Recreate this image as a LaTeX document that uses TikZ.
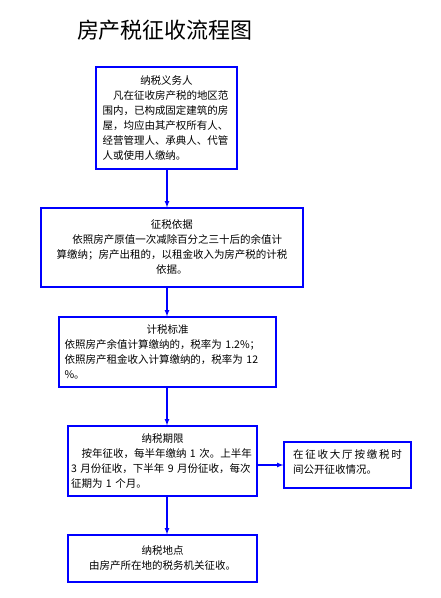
\documentclass[tikz,border=0pt]{standalone}
\usepackage{fontspec}
\setmainfont{Noto Sans CJK SC}
\newcommand{\boxhead}[1]{{\centering #1\par}\noindent}

\begin{document}
\begin{tikzpicture}[
  x=1pt, y=-1pt,
  stepbox/.style={draw=blue, line width=1.2pt, inner sep=0pt, align=left,
    font=\fontsize{10.5}{15}\selectfont},
  flow/.style={->, >=latex, draw=blue, line width=1.2pt}
]
  \useasboundingbox (0,0) rectangle (440,598);

  \node[font=\fontsize{22}{26}\selectfont] (title) at (165,30) {房产税征收流程图};

  \node[stepbox, minimum width=141pt, minimum height=102pt, text width=128pt] (duty) at (166.5,118)
    {\boxhead{纳税义务人}\hspace*{1em}凡在征收房产税的地区范\\
     围内，已构成固定建筑的房\\
     屋，均应由其产权所有人、\\
     经营管理人、承典人、代管\\
     人或使用人缴纳。};
  \node[stepbox, align=center, minimum width=262pt, minimum height=79pt, text width=250pt] (basis) at (172,247.5)
    {征税依据\\
     \hspace*{1em}依照房产原值一次减除百分之三十后的余值计\\
     算缴纳；房产出租的，以租金收入为房产税的计税\\
     依据。};
  \node[stepbox, minimum width=217pt, minimum height=70pt, text width=206pt] (rate) at (167.5,352)
    {\boxhead{计税标准}依照房产余值计算缴纳的，税率为 1.2\%；\\
     依照房产租金收入计算缴纳的，税率为 12\\
     \%。};
  \node[stepbox, minimum width=189pt, minimum height=70pt, text width=183pt] (term) at (162.5,461)
    {\boxhead{纳税期限}\hspace*{1em}按年征收，每半年缴纳 1 次。上半年\\
     3 月份征收，下半年 9 月份征收，每次\\
     征期为 1 个月。};
  \node[stepbox, minimum width=127pt, minimum height=46pt, text width=109pt, text depth=21pt] (hall) at (347.5,465)
    {\makebox[109pt][s]{在\hfill 征\hfill 收\hfill 大\hfill 厅\hfill 按\hfill 缴\hfill 税\hfill 时}\\
     间公开征收情况。};
  \node[stepbox, align=center, minimum width=189pt, minimum height=47pt, text width=175pt] (place) at (162.5,558.5)
    {纳税地点\\
     由房产所在地的税务机关征收。};

  \coordinate (axis) at (167,0);
  \draw[flow] (axis |- duty.south) -- (axis |- basis.north);
  \draw[flow] (axis |- basis.south) -- (axis |- rate.north);
  \draw[flow] (axis |- rate.south) -- (axis |- term.north);
  \draw[flow] (axis |- term.south) -- (axis |- place.north);
  \draw[flow] (term.east |- hall.west) -- (hall.west);
\end{tikzpicture}
\end{document}
